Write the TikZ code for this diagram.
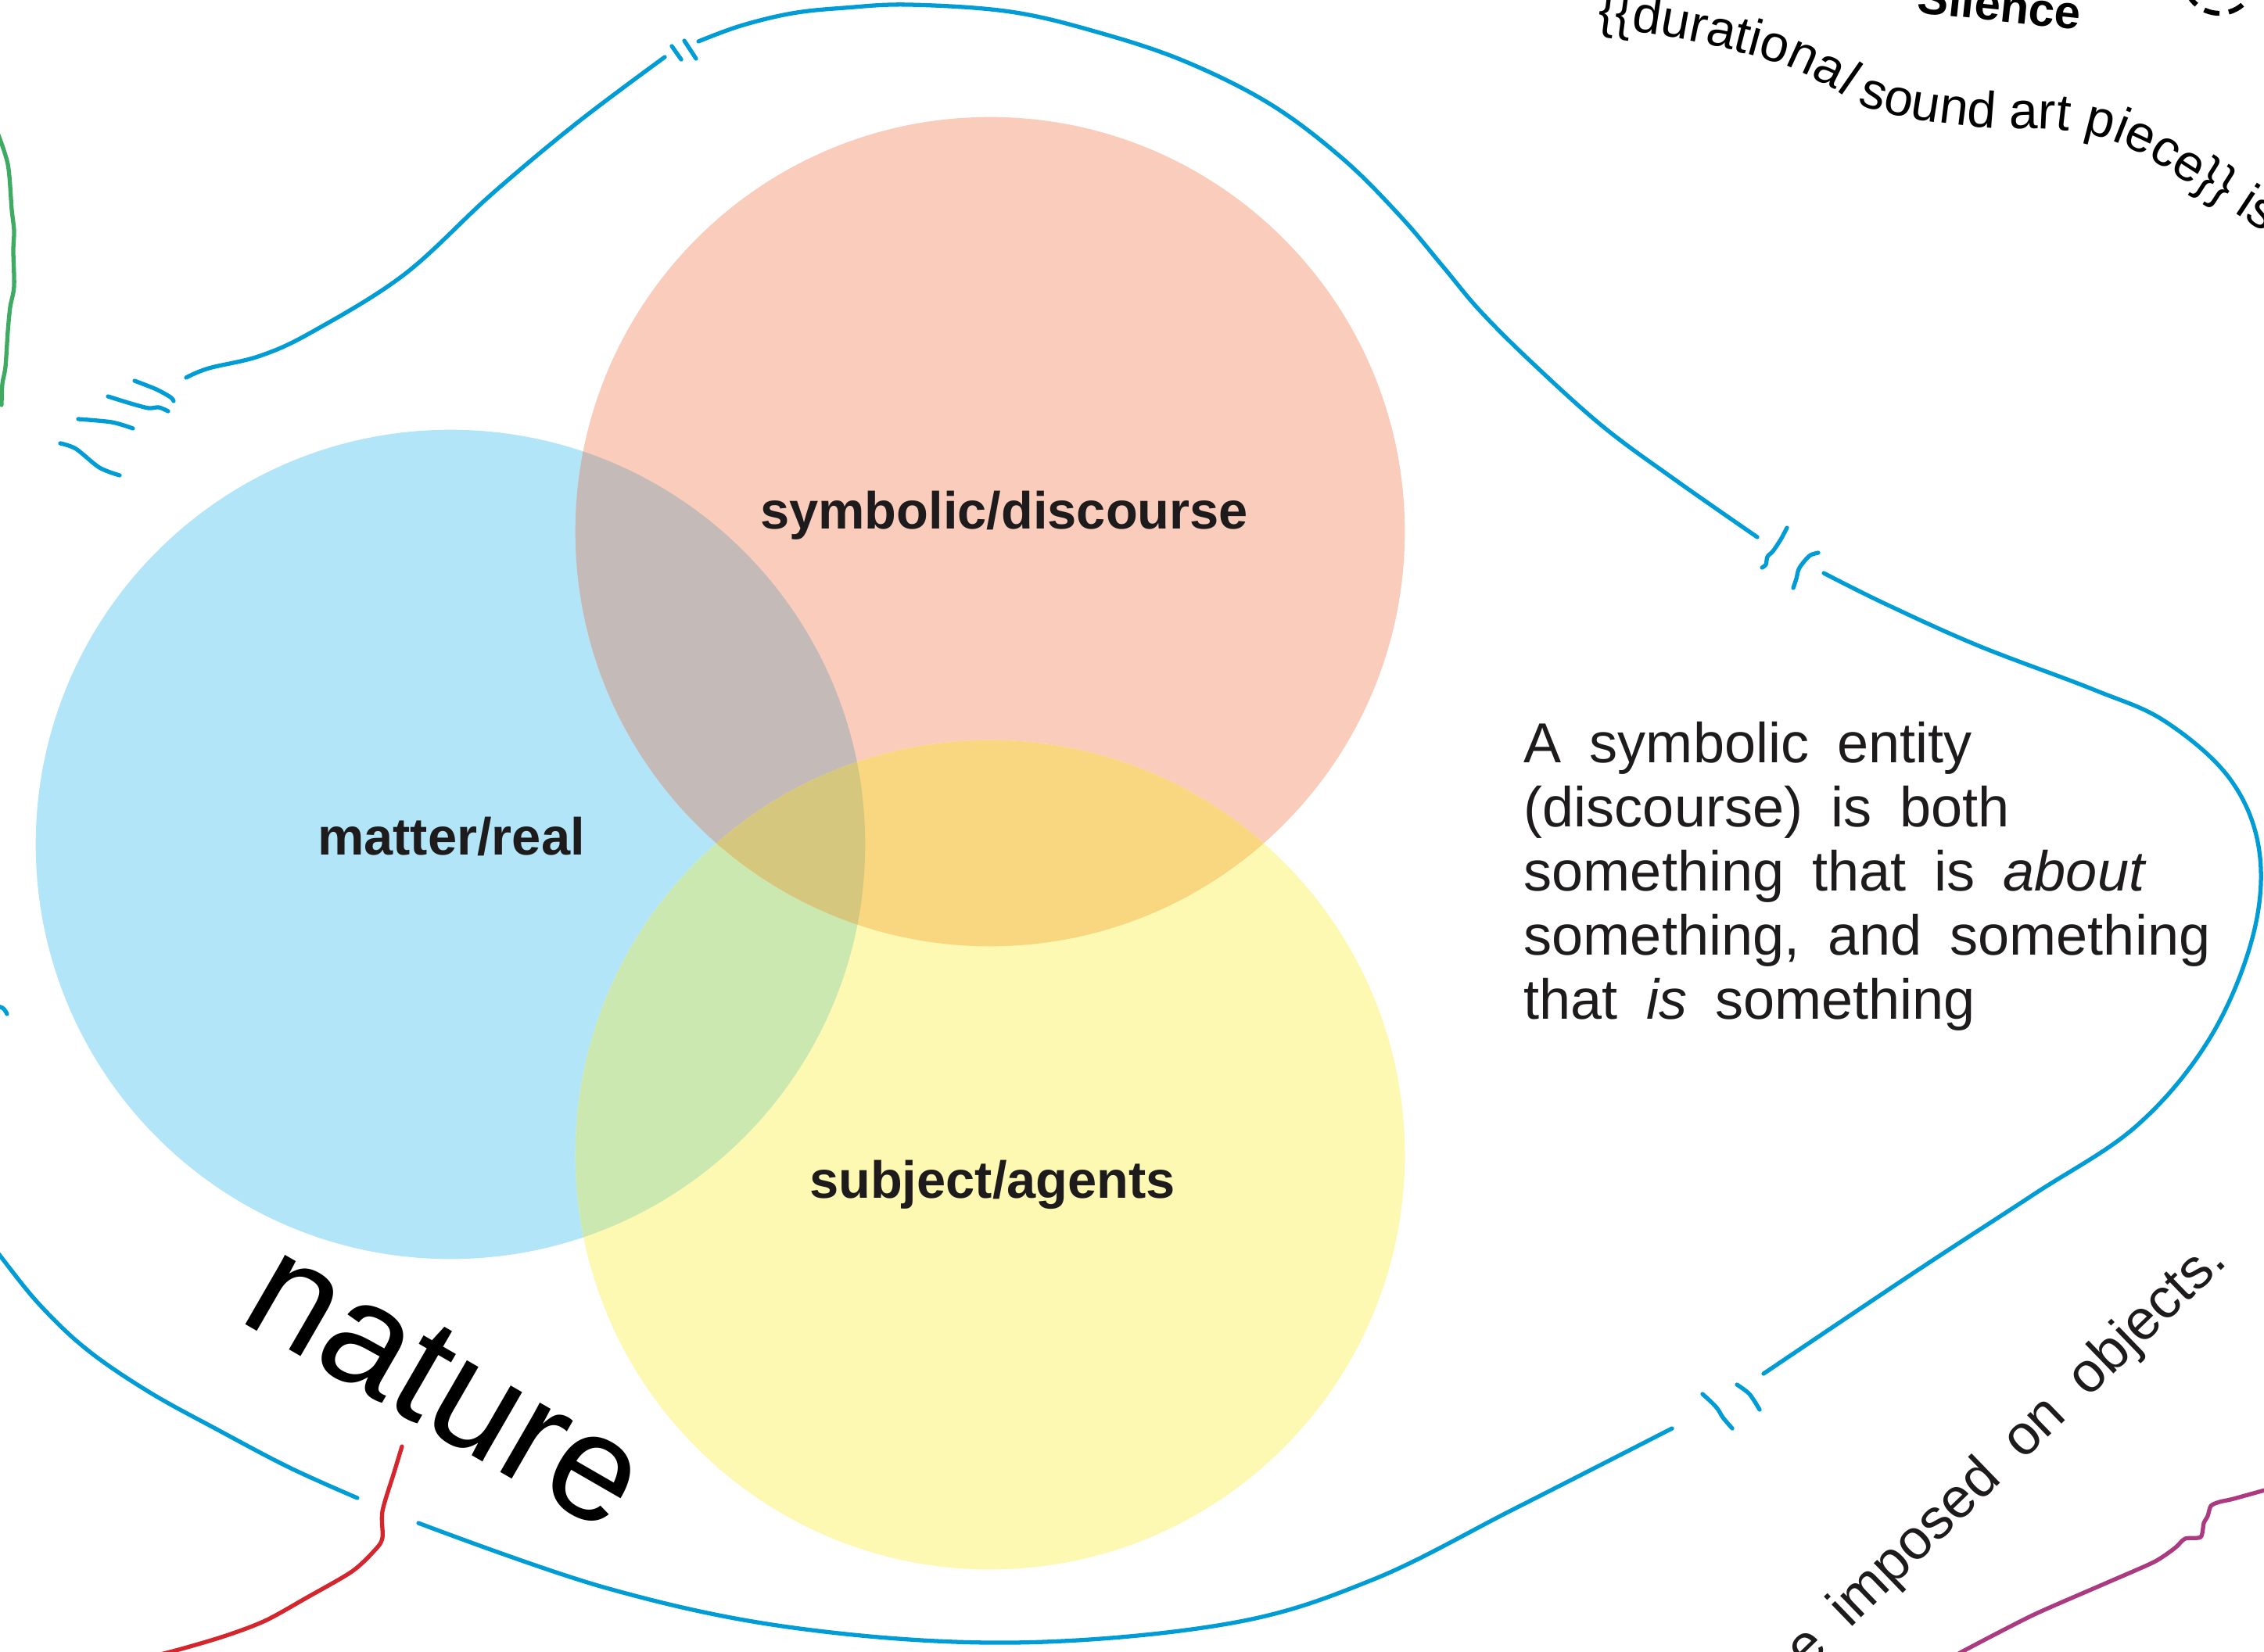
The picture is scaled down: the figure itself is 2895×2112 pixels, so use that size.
\documentclass[tikz,border=0pt]{standalone}
\usepackage{fontspec}
\setmainfont{Liberation Sans}
\usetikzlibrary{decorations.text}
\definecolor{vnblue}{RGB}{179,229,248}
\definecolor{vnorange}{RGB}{249,204,188}
\definecolor{vnyellow}{RGB}{253,248,178}
\definecolor{vnbo}{RGB}{196,186,183}
\definecolor{vnby}{RGB}{203,232,176}
\definecolor{vnoy}{RGB}{249,214,128}
\definecolor{vnboy}{RGB}{214,199,126}
\definecolor{rimblue}{RGB}{0,156,214}
\definecolor{inkgreen}{RGB}{62,170,98}
\definecolor{inkred}{RGB}{212,38,44}
\definecolor{inkplum}{RGB}{172,58,128}
\definecolor{inkdark}{RGB}{30,27,28}

\begin{document}
\begin{tikzpicture}[x=0.01cm,y=-0.01cm,
    inkline/.style={line width=1.5pt,line cap=round,line join=round},
    rimline/.style={inkline,draw=rimblue},
    setlabel/.style={inner sep=0pt,text=inkdark,font=\fontsize{19}{22}\selectfont\bfseries},
    hand/.style={inner sep=0pt,text=inkdark,font=\fontsize{20.5}{23.25}\selectfont,
      execute at begin node={\spaceskip=0.5em\relax}}]
  \useasboundingbox (0,0) rectangle (2895,2112);
  \clip (0,0) rectangle (2895,2112);

  % Venn discs
  \coordinate (matter) at (576,1080);
  \coordinate (symbol) at (1266,680);
  \coordinate (subject) at (1266,1477);
  \fill[vnblue] (matter) circle[radius=5.3cm];
  \fill[vnorange] (symbol) circle[radius=5.3cm];
  \fill[vnyellow] (subject) circle[radius=5.3cm];
  \begin{scope}
    \clip (matter) circle[radius=5.3cm];
    \fill[vnbo] (symbol) circle[radius=5.3cm];
    \fill[vnby] (subject) circle[radius=5.3cm];
  \end{scope}
  \begin{scope}
    \clip (symbol) circle[radius=5.3cm];
    \fill[vnoy] (subject) circle[radius=5.3cm];
    \clip (matter) circle[radius=5.3cm];
    \fill[vnboy] (subject) circle[radius=5.3cm];
  \end{scope}
  \node[setlabel,anchor=base] (symlab) at (1284,676) {symbolic/discourse};
  \node[setlabel,anchor=base] (matlab) at (577,1093) {matter/real};
  \node[setlabel,anchor=base] (sublab) at (1269,1532) {subject/agents};

  % broken blue rim
  \draw[rimline] plot[smooth,tension=0.6] coordinates {(238,483) (267,471) (333,455) (400,424) (517,351) (628,249) (738,157) (850,73)};
  \draw[rimline] (859,59) -- (871,76);
  \draw[rimline] (875,52) -- (890,75);
  \draw[rimline] plot[smooth,tension=0.6] coordinates {(893,53) (947,33) (1013,17) (1080,10) (1163,6) (1292,15) (1403,41) (1514,78) (1624,133) (1717,203) (1791,277) (1846,342) (1892,397) (1957,462) (2049,545) (2141,613) (2247,687)};
  \draw[rimline] plot[smooth] coordinates {(2285,675) (2277,690) (2267,705) (2260,712) (2258,722) (2253,726)};
  \draw[rimline] plot[smooth] coordinates {(2325,707) (2315,710) (2307,718) (2300,728) (2297,740) (2293,752)};
  \draw[rimline] plot[smooth,tension=0.6] coordinates {(2332,733) (2410,772) (2530,826) (2677,882) (2769,923) (2852,997) (2889,1089) (2880,1200) (2825,1329) (2732,1440) (2600,1528) (2450,1626) (2255,1757)};
  \draw[rimline] plot[smooth] coordinates {(2177,1783) (2190,1795) (2197,1803) (2203,1813) (2215,1827)};
  \draw[rimline] plot[smooth] coordinates {(2221,1771) (2237,1783) (2250,1803)};
  \draw[rimline] plot[smooth,tension=0.6] coordinates {(2138,1827) (1938,1929) (1754,2021) (1569,2077) (1292,2101) (1015,2082) (775,2031) (535,1948)};
  \draw[rimline] plot[smooth,tension=0.6] coordinates {(457,1916) (370,1877) (277,1828) (190,1780) (111,1726) (50,1668) (0,1606) (-20,1580)};
  \draw[rimline] plot[smooth] coordinates {(-15,1284) (3,1289) (9,1297)};
  % loose strokes at the left
  \draw[rimline] plot[smooth] coordinates {(172,487) (200,498) (218,508) (222,513)};
  \draw[rimline] plot[smooth] coordinates {(138,507) (167,516) (190,522) (203,521) (215,526)};
  \draw[rimline] plot[smooth] coordinates {(100,536) (143,540) (170,548)};
  \draw[rimline] plot[smooth] coordinates {(77,567) (97,574) (127,598) (153,608)};

  % other coloured lines
  \draw[inkline,inkgreen] plot[smooth] coordinates {(-5,165) (10,210) (15,268) (18,295) (17,321) (18,366) (13,393) (10,424) (7,469) (3,491) (2,518)};
  \draw[inkline,inkred] plot[smooth] coordinates {(514,1850) (504,1883) (489,1933) (489,1967) (479,1983) (450,2010) (393,2043) (339,2073) (286,2093) (221,2112) (170,2124)};
  \draw[inkline,inkplum] plot[smooth,tension=0.4] coordinates {(2480,2130) (2510,2112) (2599,2066) (2688,2027) (2754,1998) (2781,1980) (2794,1968) (2814,1966) (2818,1948) (2823,1939) (2827,1926) (2838,1921) (2856,1917) (2910,1902)};

  % texts
  \node[hand,anchor=north west,align=left] (gloss) at (1948,923)
    {A symbolic entity\\(discourse) is both\\something that is \textit{about}\\something, and something\\that \textit{is} something};
  \node[inner sep=0pt,text=black,font=\fontsize{55}{60}\selectfont,rotate=-30,anchor=base] (nature) at (540,1825) {nature};
  \node[hand,rotate=44,anchor=base east] (imposed) at (2850,1615) {e imposed on objects.};
  \node[inner sep=0pt,text=black,font=\fontsize{17}{20}\selectfont\bfseries,rotate=-6,anchor=base west] (silence) at (2450,16) {Silence};
  \coordinate (hush) at (2838,-28);
  \draw[line width=1.8pt,dash pattern=on 0.2cm off 0.12cm] (hush) circle[radius=0.45cm];
  \path[decorate,decoration={text along path,text align=left,
      text={|\fontsize{18.7}{22}\selectfont|{\{}{\{}durational sound art piece{\}}{\}} is}}]
    plot[smooth,tension=0.7] coordinates {(2042,34) (2150,50) (2265,78) (2330,106) (2395,140) (2520,162) (2640,167) (2720,188) (2800,235) (2900,300) (2980,355)};
\end{tikzpicture}
\end{document}
